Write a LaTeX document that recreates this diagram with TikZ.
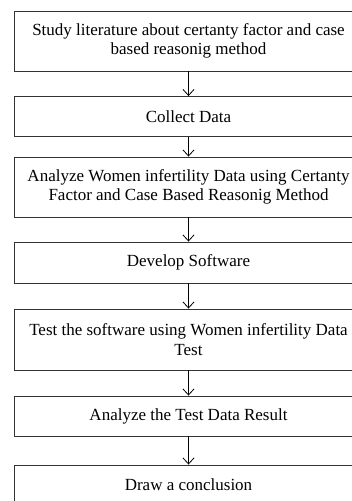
\documentclass[tikz,border=0pt]{standalone}
\usepackage{fontspec}
\setmainfont{Liberation Serif}
\usetikzlibrary{arrows.meta}
\begin{document}
\begin{tikzpicture}[x=1pt,y=-1pt,
  stepbox/.style={draw=black!80,line width=0.9pt,minimum width=349pt,inner sep=0pt,
    align=center,font=\fontsize{17}{19.5}\selectfont},
  flow/.style={draw=black,line width=0.8pt,-{Straight Barb[length=6pt,width=11pt,line width=0.8pt]}}]
\useasboundingbox (0,0) rectangle (352,501);
\clip (0,0) rectangle (352,501);
\fill[white] (0,0) rectangle (352,501);
\node[stepbox,minimum height=60pt] (s1) at (188.5,41) {Study literature about certanty factor and case\\based reasonig method};
\node[stepbox,minimum height=40pt] (s2) at (188.5,116.5) {Collect Data};
\node[stepbox,minimum height=60pt] (s3) at (188.5,187) {Analyze Women infertility Data using Certanty\\Factor and Case Based Reasonig Method};
\node[stepbox,minimum height=41pt] (s4) at (188.5,262.5) {Develop Software};
\node[stepbox,minimum height=61pt] (s5) at (188.5,339.5) {Test the software using Women infertility Data\\Test};
\node[stepbox,minimum height=40pt] (s6) at (188.5,416) {Analyze the Test Data Result};
\node[stepbox,minimum height=40pt] (s7) at (188.5,485) {Draw a conclusion};
\draw[flow] (s1.south) -- (s2.north);
\draw[flow] (s2.south) -- (s3.north);
\draw[flow] (s3.south) -- (s4.north);
\draw[flow] (s4.south) -- (s5.north);
\draw[flow] (s5.south) -- (s6.north);
\draw[flow] (s6.south) -- (s7.north);
\end{tikzpicture}
\end{document}
